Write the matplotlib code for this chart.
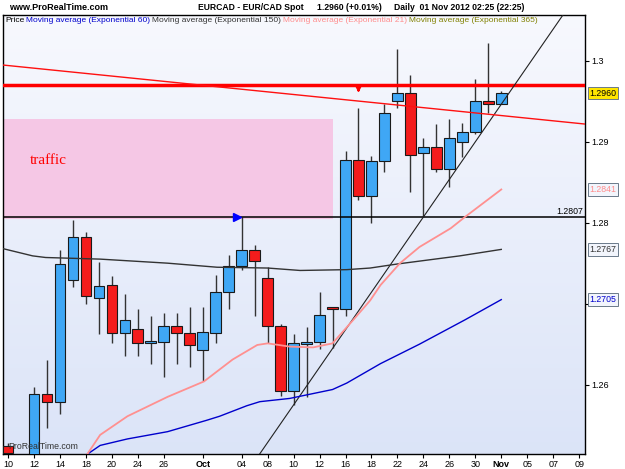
import numpy as np
import matplotlib
matplotlib.use('Agg')
import matplotlib.pyplot as plt
import matplotlib.transforms as mtransforms
from matplotlib.patches import Rectangle

plt.rcParams['font.family'] = ['Liberation Sans', 'DejaVu Sans']

# EURCAD daily bars, trading day index 0 = 10 Sep 2012
opens  = [1.2524, 1.2510, 1.2500, 1.2588, 1.2578, 1.2729, 1.2782, 1.2707, 1.2723, 1.2664,
          1.2669, 1.2651, 1.2653, 1.2673, 1.2664, 1.2643, 1.2664, 1.2715, 1.2747, 1.2766,
          1.2732, 1.2672, 1.2592, 1.2650, 1.2653, 1.2696, 1.2693, 1.2877, 1.2833, 1.2876,
          1.2950, 1.2960, 1.2886, 1.2894, 1.2866, 1.2899, 1.2912, 1.2950, 1.2946]
highs  = [1.2528, 1.2513, 1.2597, 1.2631, 1.2766, 1.2803, 1.2789, 1.2751, 1.2734, 1.2712,
          1.2694, 1.2685, 1.2688, 1.2689, 1.2696, 1.2696, 1.2736, 1.2760, 1.2807, 1.2773,
          1.2745, 1.2675, 1.2663, 1.2671, 1.2714, 1.2696, 1.2889, 1.2941, 1.2882, 1.2947,
          1.3014, 1.2982, 1.2904, 1.2922, 1.2928, 1.2923, 1.2977, 1.3022, 1.2962]
lows   = [1.2508, 1.2490, 1.2495, 1.2547, 1.2564, 1.2721, 1.2699, 1.2663, 1.2651, 1.2635,
          1.2635, 1.2625, 1.2609, 1.2626, 1.2622, 1.2604, 1.2651, 1.2694, 1.2742, 1.2685,
          1.2651, 1.2586, 1.2575, 1.2585, 1.2644, 1.2645, 1.2685, 1.2828, 1.2800, 1.2862,
          1.2941, 1.2838, 1.2807, 1.2863, 1.2844, 1.2881, 1.2909, 1.2936, 1.2946]
closes = [1.2516, 1.2498, 1.2588, 1.2579, 1.2749, 1.2782, 1.2709, 1.2722, 1.2664, 1.2680,
          1.2651, 1.2654, 1.2673, 1.2664, 1.2649, 1.2665, 1.2714, 1.2747, 1.2766, 1.2753,
          1.2672, 1.2592, 1.2651, 1.2653, 1.2686, 1.2693, 1.2877, 1.2833, 1.2876, 1.2936,
          1.2960, 1.2884, 1.2894, 1.2866, 1.2905, 1.2912, 1.2950, 1.2946, 1.2960]

# moving averages
ema21_days = [6.1, 7.1, 9.2, 12.3, 15.1, 17.3, 19.2, 20.0, 21.7, 23.5, 25.0, 26.6, 27.9, 28.7, 30.2, 31.7, 34.1, 35.2, 38.0]
ema21_vals = [1.2514, 1.2538, 1.2561, 1.2585, 1.2604, 1.2631, 1.2649, 1.2651, 1.2647, 1.2646,
              1.2651, 1.2680, 1.2704, 1.2723, 1.2750, 1.2770, 1.2793, 1.2807, 1.2841]
ema60_days = [6.1, 7.1, 9.2, 12.3, 15.3, 16.3, 18.4, 19.4, 21.7, 25.0, 26.1, 28.7, 31.7, 35.2, 38.0]
ema60_vals = [1.2514, 1.2525, 1.2533, 1.2542, 1.2556, 1.2561, 1.2574, 1.2579, 1.2583, 1.2594,
              1.2602, 1.2626, 1.2650, 1.2680, 1.2705]
ema150_days = [-0.4, 1.9, 2.9, 7.1, 12.3, 16.1, 20.0, 22.5, 26.1, 27.9, 30.0, 34.8, 38.0]
ema150_vals = [1.2768, 1.2759, 1.2757, 1.2755, 1.2750, 1.2745, 1.2744, 1.2741, 1.2742, 1.2744,
               1.2749, 1.2759, 1.2767]

# drawn objects
support_level = 1.2807
resist_level = 1.2970
trend_pts = [(22, 1.2575), (32, 1.2807)]
resist_pts = [(0, 1.2994), (40, 1.2929)]
zone_x = [-1.0, 25.0]
zone_y = [1.2804, 1.2928]

xtick_days = [0, 2, 4, 6, 8, 10, 12, 15, 18, 20, 22, 24, 26, 28, 30, 32, 34, 36, 38, 40, 42, 44]
xtick_labels = ['10', '12', '14', '18', '20', '24', '26', 'Oct', '04', '08', '10', '12',
                '16', '18', '22', '24', '26', '30', 'Nov', '05', '07', '09']
ytick_vals = [1.26, 1.27, 1.28, 1.29, 1.30]
ytick_labels = ['1.26', '1.27', '1.28', '1.29', '1.3']

price_tags = [(1.2960, '1.2960', 'black', '#FFE600'),
              (1.2841, '1.2841', '#FF8C8C', '#F2F5FC'),
              (1.2767, '1.2767', '#333333', '#F2F5FC'),
              (1.2705, '1.2705', '#0000CC', '#F2F5FC')]

W, H = 625, 469
fig = plt.figure(figsize=(W / 100, H / 100), dpi=100)
ax = fig.add_axes([3 / W, 15 / H, 582 / W, 439 / H])

# background gradient
t = np.linspace(0, 1, 256)[:, None, None]
top_c = np.array([0.97, 0.975, 0.995])
bot_c = np.array([0.86, 0.894, 0.972])
grad = top_c * (1 - t) + bot_c * t
ax.imshow(grad, extent=[0, 1, 0, 1], transform=ax.transAxes, aspect='auto', zorder=0)

# zone
ax.add_patch(Rectangle((zone_x[0], zone_y[0]), zone_x[1] - zone_x[0], zone_y[1] - zone_y[0],
                       facecolor='#F5C7E5', edgecolor='none', zorder=1))
ax.text(1.7, 1.2877, 'traffic', color='red', family='Liberation Serif', fontsize=11,
        va='center', zorder=2)

# candles
days = np.arange(len(opens))
for d in days:
    o, h, l, c = opens[d], highs[d], lows[d], closes[d]
    col = '#3FA7F5' if c >= o else '#F41C1C'
    ax.vlines(d, l, h, color='#333333', lw=1, zorder=3)
    ax.bar(d, max(abs(c - o), 0.00003), bottom=min(o, c), width=0.82, color=col,
           edgecolor='#1a1a1a', linewidth=0.8, zorder=4)

# lines
ax.axhline(support_level, color='black', lw=1.1, zorder=5)
ax.axhline(resist_level, color='#FF0000', lw=2.5, zorder=5)
ax.axline(trend_pts[0], trend_pts[1], color='#222222', lw=0.8, zorder=5)
ax.axline(resist_pts[0], resist_pts[1], color='#FF1010', lw=1, zorder=5)

ax.plot(ema150_days, ema150_vals, color='#333333', lw=1, zorder=5)
ax.plot(ema60_days, ema60_vals, color='#0000CC', lw=1, zorder=5)
ax.plot(ema21_days, ema21_vals, color='#FF9090', lw=1.3, zorder=5)

# markers
ax.plot(17.65, support_level, marker='>', color='#0000FF', ms=6, zorder=6)
ax.annotate('', xy=(27, 1.2957), xytext=(27, 1.2969),
            arrowprops=dict(arrowstyle='-|>', color='#FF0000', lw=1.8, mutation_scale=8), zorder=6)

trans = mtransforms.blended_transform_factory(ax.transAxes, ax.transData)
ax.text(0.997, support_level + 0.0001, '1.2807', transform=trans, ha='right', va='bottom',
        fontsize=6.3, zorder=6)
ax.text(0.009, 1.2524, 'ProRealTime.com', color='#333333', fontsize=6.3, va='center', zorder=7)

ax.set_xlim(-0.385, 44.45)
ax.set_ylim(1.25144, 1.30564)

# axes
ax.set_xticks(xtick_days)
ax.set_xticklabels(xtick_labels)
for lab in ax.get_xticklabels():
    if lab.get_text() in ('Oct', 'Nov'):
        lab.set_fontweight('bold')
ax.set_yticks(ytick_vals)
ax.set_yticklabels(ytick_labels)
ax.get_yticklabels()[-1].set_fontweight('bold')
ax.yaxis.tick_right()
ax.tick_params(axis='both', direction='out', length=3, width=0.8, labelsize=6.5, pad=1.5)
for sp in ax.spines.values():
    sp.set_linewidth(1)
    sp.set_color('black')

for val, txt, tc, fc in price_tags:
    ax.text(1.008, val, txt, transform=trans, color=tc, fontsize=6.3, va='center', ha='left',
            bbox=dict(boxstyle='square,pad=0.2', fc=fc, ec='#6a7a8a', lw=0.7),
            clip_on=False, zorder=8)

# header
fig.text(9 / W, 1 - 7.5 / H, 'www.ProRealTime.com', fontsize=6.5, fontweight='bold', va='center')
fig.text(198 / W, 1 - 7.5 / H, 'EURCAD - EUR/CAD Spot', fontsize=6.2, fontweight='bold', va='center')
fig.text(317 / W, 1 - 7.5 / H, '1.2960 (+0.01%)', fontsize=6.2, fontweight='bold', va='center')
fig.text(394 / W, 1 - 7.5 / H, 'Daily  01 Nov 2012 02:25 (22:25)', fontsize=6.2, fontweight='bold', va='center')

legend_parts = [(5, 'Price', 'black'),
                (26, 'Moving average (Exponential 60)', '#0000CC'),
                (152, 'Moving average (Exponential 150)', '#333333'),
                (283, 'Moving average (Exponential 21)', '#FF8C8C'),
                (409, 'Moving average (Exponential 365)', '#808000')]
for px, txt, col in legend_parts:
    fig.text(px / W, 1 - 21 / H, txt, color=col, fontsize=6.0, va='center')

fig.savefig('out.png', dpi=100)
